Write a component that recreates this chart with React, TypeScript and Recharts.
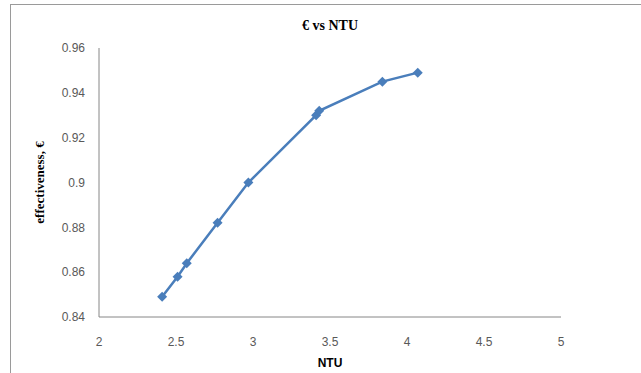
import React from "react";
import { LineChart, Line, XAxis, YAxis, Label } from "recharts";

const ntu = [2.41, 2.51, 2.57, 2.77, 2.97, 3.41, 3.43, 3.84, 4.07];
const effectiveness = [0.849, 0.858, 0.864, 0.882, 0.9, 0.93, 0.932, 0.945, 0.949];
const xTicks = [2, 2.5, 3, 3.5, 4, 4.5, 5];
const yTicks = [0.84, 0.86, 0.88, 0.9, 0.92, 0.94, 0.96];

const data = ntu.map((x, i) => ({ ntu: x, eff: effectiveness[i] }));

const AXIS_GREY = "#868686";
const TICK_STYLE = { fontSize: 12, fill: "#595959", fontFamily: "Liberation Sans, Arial, sans-serif" };

function Diamond(props: { cx?: number; cy?: number }) {
  const { cx, cy } = props;
  if (cx == null || cy == null) return null;
  const r = 5;
  return (
    <path
      d={`M${cx},${cy - r}L${cx + r},${cy}L${cx},${cy + r}L${cx - r},${cy}Z`}
      fill="#4a7ebb"
      stroke="none"
    />
  );
}

export default function App() {
  return (
    <div style={{ position: "fixed", left: 0, top: 0, width: 641, height: 373, background: "#fff" }}>
      <div
        style={{
          position: "absolute",
          left: 10,
          top: 4,
          width: 631,
          height: 369,
          borderTop: "1px solid #9a9a9a",
          borderLeft: "1px solid #9a9a9a",
          boxSizing: "border-box",
        }}
      />
      <div
        style={{
          position: "absolute",
          left: 99,
          width: 462,
          top: 18,
          textAlign: "center",
          fontFamily: "Liberation Serif, Times New Roman, serif",
          fontWeight: "bold",
          fontSize: 14,
          color: "#000",
        }}
      >
        € vs NTU
      </div>
      <LineChart
        width={641}
        height={373}
        data={data}
        margin={{ top: 48, right: 80, bottom: 26, left: 39 }}
        style={{ position: "absolute", left: 0, top: 0 }}
      >
        <XAxis
          dataKey="ntu"
          type="number"
          domain={[2, 5]}
          ticks={xTicks}
          height={30}
          tickSize={0}
          tickMargin={20}
          axisLine={{ stroke: AXIS_GREY }}
          tickLine={false}
          tick={TICK_STYLE}
          allowDataOverflow
        >
          <Label
            value="NTU"
            position="bottom"
            offset={11}
            style={{ fontSize: 12, fontWeight: "bold", fill: "#000", fontFamily: "Liberation Sans, Arial, sans-serif" }}
          />
        </XAxis>
        <XAxis xAxisId="top" orientation="top" type="number" domain={[2, 5]} height={0} tick={false} tickLine={false} axisLine={{ stroke: AXIS_GREY }} />
        <YAxis
          dataKey="eff"
          type="number"
          domain={[0.84, 0.96]}
          ticks={yTicks}
          width={60}
          tickSize={0}
          tickMargin={14}
          axisLine={{ stroke: AXIS_GREY }}
          tickLine={false}
          tick={TICK_STYLE}
          allowDataOverflow
        >
          <Label
            value="effectiveness, €"
            angle={-90}
            position="insideLeft"
            offset={0}
            style={{
              textAnchor: "middle",
              fontSize: 13,
              fontWeight: "bold",
              fill: "#000",
              fontFamily: "Liberation Serif, Times New Roman, serif",
            }}
          />
        </YAxis>
        <YAxis yAxisId="right" orientation="right" domain={[0.84, 0.96]} width={0} tick={false} tickLine={false} axisLine={{ stroke: AXIS_GREY }} />
        <Line
          dataKey="eff"
          type="linear"
          stroke="#4a7ebb"
          strokeWidth={2.5}
          dot={<Diamond />}
          activeDot={false}
          isAnimationActive={false}
        />
      </LineChart>
    </div>
  );
}
